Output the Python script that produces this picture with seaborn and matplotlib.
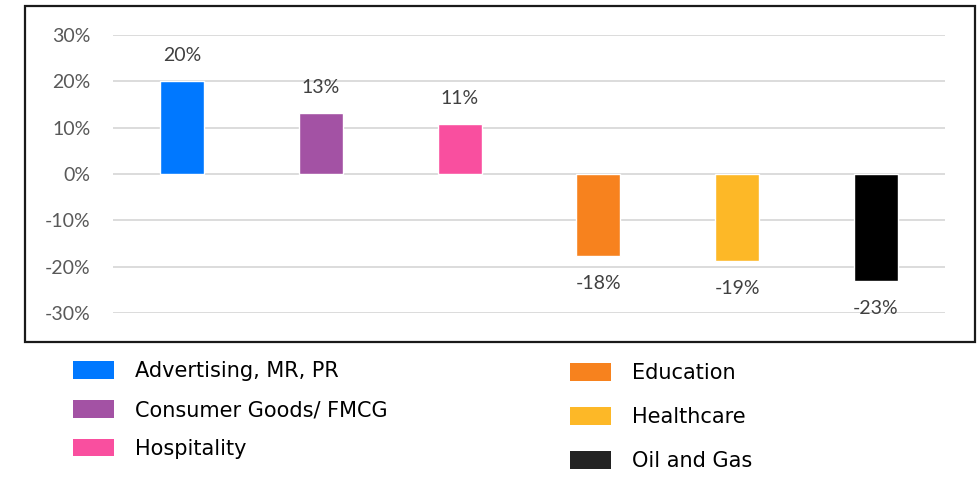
import numpy as np
import pandas as pd
import matplotlib.pyplot as plt
import seaborn as sns
from matplotlib.patches import Patch, Rectangle
from matplotlib.ticker import PercentFormatter


CATEGORIES = [
    "Advertising, MR, PR",
    "Consumer Goods/ FMCG",
    "Hospitality",
    "Education",
    "Healthcare",
    "Oil and Gas",
]
VALUES = [0.201, 0.132, 0.108, -0.176, -0.187, -0.230]
LABELS = ["20%", "13%", "11%", "-18%", "-19%", "-23%"]
COLORS = ["#0078FF", "#A352A4", "#F94F9F", "#F7821E", "#FDB827", "#000000"]
LEGEND_COLORS = ["#0078FF", "#A352A4", "#F94F9F", "#F7821E", "#FDB827", "#222222"]
Y_TICKS = [-0.3, -0.2, -0.1, 0.0, 0.1, 0.2, 0.3]

W, H = 980, 479


def main():
    sns.set_theme(style="white")
    plt.rcParams["font.family"] = ["Lato", "DejaVu Sans"]
    plt.rcParams["axes.unicode_minus"] = False

    df = pd.DataFrame({"sector": CATEGORIES, "change": VALUES})

    fig = plt.figure(figsize=(W / 100, H / 100), dpi=100)
    ax = fig.add_axes([113 / W, 1 - 313 / H, (945 - 113) / W, (313 - 35) / H])

    sns.barplot(
        data=df, x="sector", y="change", hue="sector",
        palette=COLORS, legend=False, width=0.317, saturation=1, ax=ax,
    )

    ax.set_xlim(-0.5, 5.5)
    ax.set_ylim(-0.3, 0.3)
    ax.set_yticks(Y_TICKS)
    ax.yaxis.set_major_formatter(PercentFormatter(1.0, decimals=0))
    ax.set_xticks([])
    ax.set_xlabel("")
    ax.set_ylabel("")
    ax.grid(axis="y", color="#d9d9d9", linewidth=1.3)
    ax.set_axisbelow(True)
    for s in ax.spines.values():
        s.set_visible(False)
    ax.tick_params(axis="y", length=0, pad=16, labelsize=14, labelcolor="#595959")

    # value labels above / below the bars
    for i, (v, lab) in enumerate(zip(VALUES, LABELS)):
        off = 18 if v > 0 else -20
        ax.annotate(lab, (i, v), xytext=(0, off), textcoords="offset points",
                    ha="center", va="center", fontsize=14, color="#404040",
                    annotation_clip=False)

    # frame around the plot area
    fig.patches.append(Rectangle((25 / W, 1 - 342 / H), 950 / W, 336 / H,
                                 transform=fig.transFigure, fill=False,
                                 edgecolor="#1a1a1a", linewidth=1.6))

    handles = [Patch(facecolor=c, edgecolor="none") for c in LEGEND_COLORS]
    leg_kw = dict(frameon=False, handlelength=1.97, handleheight=0.9,
                  handletextpad=1.0, borderaxespad=0, labelcolor="black",
                  prop={"family": "DejaVu Sans", "size": 15})
    fig.legend(handles[:3], CATEGORIES[:3], loc="upper left", labelspacing=0.9,
               bbox_to_anchor=(65 / W, 1 - 353 / H), **leg_kw)
    fig.legend(handles[3:], CATEGORIES[3:], loc="upper left", labelspacing=1.15,
               bbox_to_anchor=(562 / W, 1 - 355 / H), **leg_kw)

    fig.savefig("out.png", dpi=100, facecolor="white")
    plt.close(fig)


if __name__ == "__main__":
    main()
